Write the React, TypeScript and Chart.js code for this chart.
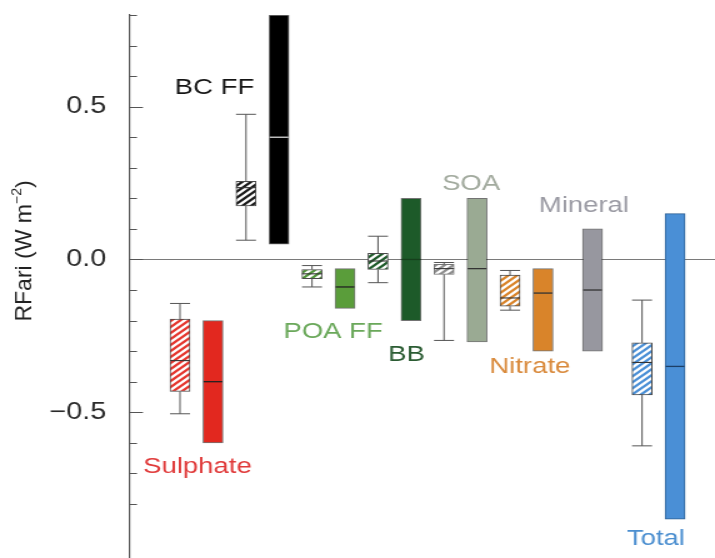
import { useEffect, useRef } from "react";
import { Chart, registerables } from "chart.js";

Chart.register(...registerables);

// ---------------- data ----------------
const categories = ["Sulphate", "BC FF", "POA FF", "BB", "SOA", "Nitrate", "Mineral", "Total"];

// model spread (hatched boxes); null = no box for that category
const modelWhiskerLow = [-0.505, 0.063, -0.09, -0.076, -0.265, -0.166, null, -0.61];
const modelQ1 = [-0.432, 0.175, -0.063, -0.033, -0.049, -0.153, null, -0.443];
const modelMedian = [-0.331, 0.235, -0.047, -0.005, -0.03, -0.126, null, -0.337];
const modelQ3 = [-0.195, 0.256, -0.033, 0.02, -0.016, -0.051, null, -0.273];
const modelWhiskerHigh = [-0.144, 0.475, -0.02, 0.076, -0.01, -0.036, null, -0.133];

// best estimates (solid bars)
const bestLow = [-0.6, 0.05, -0.16, -0.2, -0.27, -0.3, -0.3, -0.85];
const bestMedian = [-0.4, 0.4, -0.09, 0.0, -0.03, -0.11, -0.1, -0.35];
const bestHigh = [-0.2, 0.8, -0.03, 0.2, 0.2, -0.03, 0.1, 0.15];

const yTickLabels = [
  { value: 0.5, label: "0.5" },
  { value: 0.0, label: "0.0" },
  { value: -0.5, label: "\u22120.5" },
];
const yTitleMain = "RFari (W m";
const yTitleSup = "\u22122";
const yTitleEnd = ")";

// ---------------- styles / layout ----------------
const barColors = ["#e2281f", "#000000", "#5a9d3a", "#1d5a29", "#9aaa93", "#d9842a", "#97979f", "#4a8fd6"];
const hatchColors = ["#e5352d", "#1a1a1a", "#4f9438", "#1d5a29", "#8f8f8f", "#d9842a", "#888888", "#4a8fd6"];
const labelColors = ["#e03a3a", "#151515", "#6aa85a", "#2b5c33", "#a2aa9e", "#d98a3c", "#9a9aa3", "#4c8fd0"];
const medianColors = ["#222", "#d8d8d8", "#222", "#163f1c", "#333", "#333", "#333", "#1d3f66"];
const labelDx = [0.53, -0.955, 0.64, 0.86, 0.82, 0.6, 0.24, 0.42];
const labelY = [-0.698, 0.541, -0.256, -0.331, 0.228, -0.37, 0.154, -0.934];

const FONT = "'Liberation Sans', Arial, Helvetica, sans-serif";
const CW = 572; // canvas bitmap width (displayed stretched to 715)
const CH = 558;
const STRETCH = 715 / CW;

function makeHatch(color: string): CanvasPattern | string {
  const w = 14;
  const h = 12;
  const c = document.createElement("canvas");
  c.width = w;
  c.height = h;
  const g = c.getContext("2d");
  if (!g) return color;
  g.fillStyle = "#ffffff";
  g.fillRect(0, 0, w, h);
  g.strokeStyle = color;
  g.lineWidth = 2.2;
  for (const off of [-28, -21, -14, -7, 0, 7, 14, 21, 28]) {
    g.beginPath();
    g.moveTo(off - w, 2 * h);
    g.lineTo(off + 2 * w, -h);
    g.stroke();
  }
  return g.createPattern(c, "repeat") || color;
}

export default function App() {
  const ref = useRef<HTMLCanvasElement>(null);

  useEffect(() => {
    const canvas = ref.current;
    if (!canvas) return;

    const boxIdx = categories.map((_, i) => i).filter((i) => modelQ1[i] !== null);
    const boxData = boxIdx.map((i) => ({ x: 2 * i, y: [modelQ1[i] as number, modelQ3[i] as number] }));
    const barX = categories.map((_, i) => 2 * i + (modelQ1[i] !== null ? 1 : 0.5));
    const barData = categories.map((_, i) => ({ x: barX[i], y: [bestLow[i], bestHigh[i]] }));

    const overlay = {
      id: "overlay",
      afterDatasetsDraw(chart: any) {
        const { ctx } = chart;
        const ys = chart.scales.y;
        const boxMeta = chart.getDatasetMeta(0);
        const barMeta = chart.getDatasetMeta(1);
        ctx.save();
        // whiskers and box medians
        boxIdx.forEach((ci, j) => {
          const el = boxMeta.data[j];
          if (!el) return;
          const cx = el.x;
          const hw = el.width / 2;
          const yWl = ys.getPixelForValue(modelWhiskerLow[ci]);
          const yWh = ys.getPixelForValue(modelWhiskerHigh[ci]);
          const yQ1 = ys.getPixelForValue(modelQ1[ci]);
          const yQ3 = ys.getPixelForValue(modelQ3[ci]);
          const yMed = ys.getPixelForValue(modelMedian[ci]);
          ctx.strokeStyle = "#555";
          ctx.lineWidth = 1;
          ctx.beginPath();
          ctx.moveTo(cx, yWh);
          ctx.lineTo(cx, yQ3);
          ctx.moveTo(cx, yQ1);
          ctx.lineTo(cx, yWl);
          ctx.moveTo(cx - hw, yWh);
          ctx.lineTo(cx + hw, yWh);
          ctx.moveTo(cx - hw, yWl);
          ctx.lineTo(cx + hw, yWl);
          ctx.stroke();
          ctx.strokeStyle = "#333";
          ctx.lineWidth = 1.1;
          ctx.beginPath();
          ctx.moveTo(cx - hw, yMed);
          ctx.lineTo(cx + hw, yMed);
          ctx.stroke();
        });
        // bar medians
        categories.forEach((_, i) => {
          const el = barMeta.data[i];
          if (!el) return;
          const hw = el.width / 2;
          const yMed = ys.getPixelForValue(bestMedian[i]);
          ctx.strokeStyle = medianColors[i];
          ctx.lineWidth = 1.3;
          ctx.beginPath();
          ctx.moveTo(el.x - hw + 0.5, yMed);
          ctx.lineTo(el.x + hw - 0.5, yMed);
          ctx.stroke();
        });
        ctx.restore();
      },
      afterDraw(chart: any) {
        const { ctx, chartArea } = chart;
        const ys = chart.scales.y;
        const xs = chart.scales.x;
        ctx.save();
        // inward tick marks
        ctx.strokeStyle = "#555";
        ctx.lineWidth = 1;
        ctx.beginPath();
        ys.ticks.forEach((t: any) => {
          const v = t.value;
          const r = Math.round(v * 10);
          if (Math.abs(v * 10 - r) > 1e-6) return;
          const major = r % 5 === 0;
          const py = Math.round(ys.getPixelForValue(v)) + 0.5;
          ctx.moveTo(chartArea.left, py);
          ctx.lineTo(chartArea.left + (major ? 10.4 : 5.6), py);
        });
        ctx.stroke();

        // category labels
        ctx.font = `22px ${FONT}`;
        ctx.textAlign = "center";
        ctx.textBaseline = "alphabetic";
        categories.forEach((name, i) => {
          ctx.fillStyle = labelColors[i];
          ctx.fillText(name, xs.getPixelForValue(2 * i + labelDx[i]), ys.getPixelForValue(labelY[i]));
        });

        // y axis title (counter-stretched so glyphs keep proportion)
        ctx.translate(20, 251);
        ctx.scale(1 / STRETCH, 1);
        ctx.rotate(-Math.PI / 2);
        ctx.fillStyle = "#222";
        ctx.textAlign = "left";
        ctx.textBaseline = "middle";
        const mainFont = `23px ${FONT}`;
        const supFont = `14px ${FONT}`;
        ctx.font = mainFont;
        const w1 = ctx.measureText(yTitleMain).width;
        const w3 = ctx.measureText(yTitleEnd).width;
        ctx.font = supFont;
        const w2 = ctx.measureText(yTitleSup).width;
        let sx = -(w1 + w2 + w3) / 2;
        ctx.font = mainFont;
        ctx.fillText(yTitleMain, sx, 0);
        sx += w1;
        ctx.font = supFont;
        ctx.fillText(yTitleSup, sx, -7);
        sx += w2;
        ctx.font = mainFont;
        ctx.fillText(yTitleEnd, sx, 0);
        ctx.restore();
      },
    };

    const chart = new Chart(canvas, {
      type: "bar",
      data: {
        datasets: [
          {
            label: "model",
            data: boxData as any,
            backgroundColor: boxIdx.map((i) => makeHatch(hatchColors[i])) as any,
            borderColor: boxIdx.map((i) => (i === 4 ? "#777" : "#4a4a4a")),
            borderWidth: 1,
            borderSkipped: false,
            barThickness: 16,
            grouped: false,
          } as any,
          {
            label: "best",
            data: barData as any,
            backgroundColor: barColors,
            borderColor: categories.map((_, i) => (i === 7 ? "#2c5f93" : "rgba(0,0,0,0.55)")),
            borderWidth: 1,
            borderSkipped: false,
            barThickness: 16,
            grouped: false,
          } as any,
        ],
      },
      options: {
        animation: false,
        responsive: false,
        maintainAspectRatio: false,
        devicePixelRatio: 1,
        layout: { padding: { top: 15, left: 0, right: 0, bottom: 0 } },
        plugins: { legend: { display: false }, tooltip: { enabled: false }, title: { display: false } },
        scales: {
          x: {
            type: "linear",
            min: -1.515,
            max: 16.21,
            offset: false,
            display: false,
            grid: { display: false },
          },
          y: {
            type: "linear",
            min: -0.977,
            max: 0.8,
            afterFit: (s: any) => {
              s.width = 104;
              s.paddingTop = 0;
              s.paddingBottom = 0;
            },
            border: { display: true, color: "#555", width: 1.2 },
            grid: {
              drawTicks: false,
              drawOnChartArea: true,
              lineWidth: 1,
              color: (c: any) => (c.tick && Math.abs(c.tick.value) < 1e-6 ? "#7a7a7a" : "rgba(0,0,0,0)"),
            },
            ticks: {
              stepSize: 0.1,
              padding: 19,
              color: "#2a2a2a",
              font: { family: FONT, size: 23 },
              callback: (v: any) => {
                const hit = yTickLabels.find((t) => Math.abs(t.value - Number(v)) < 1e-6);
                return hit ? hit.label : "";
              },
            },
          },
        },
      },
      plugins: [overlay],
    });

    return () => chart.destroy();
  }, []);

  return (
    <canvas
      ref={ref}
      width={CW}
      height={CH}
      style={{ position: "absolute", left: 0, top: 0, width: "715px", height: "558px" }}
    />
  );
}
